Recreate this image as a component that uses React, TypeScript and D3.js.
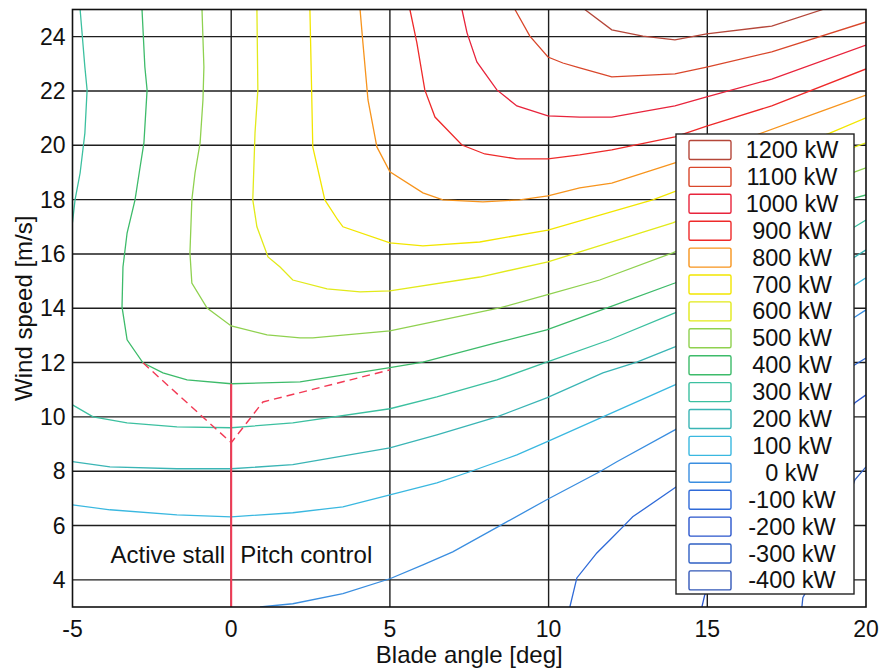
import React from "react";
import * as d3 from "d3";

type P = [number, number];

const xTicks = [-5, 0, 5, 10, 15, 20];
const yTicks = [4, 6, 8, 10, 12, 14, 16, 18, 20, 22, 24];
const xGrid = [0, 5, 10, 15];

const levels = [1200, 1100, 1000, 900, 800, 700, 600, 500, 400, 300, 200, 100, 0, -100, -200, -300, -400];
const levelColors = [
  "#b5473a", "#d9472b", "#e8243c", "#ee2a2a", "#f7941d", "#f2e600", "#e2ea1a",
  "#8fd14f", "#3dbb6a", "#3cc0a0", "#3ab5b5", "#3ab8e0", "#3a8ee0",
  "#2f6ad8", "#2a55cc", "#3060c4", "#3358b8",
];

const c1200: P[] = [[11.14, 25], [11.99, 24.25], [12.97, 24.02], [13.98, 23.88], [14.98, 24.1], [17.03, 24.39], [18.64, 25]];
const c1100: P[] = [[8.94, 25], [9.41, 24.02], [9.98, 23.25], [10.45, 23.03], [10.98, 22.85], [11.99, 22.52], [13.98, 22.63], [14.98, 22.88], [17.03, 23.44], [20, 24.54]];
const c1000: P[] = [[7.27, 25], [7.43, 24.14], [7.74, 23.07], [8.37, 22.04], [9.0, 21.45], [9.98, 21.08], [10.98, 21.04], [11.99, 21.04], [13.98, 21.45], [14.98, 21.78], [17.03, 22.44], [20, 23.69]];
const c900: P[] = [[5.63, 25], [5.85, 23.77], [6.1, 22.04], [6.42, 21.04], [7.27, 20.01], [7.99, 19.68], [9.0, 19.5], [9.98, 19.5], [10.98, 19.65], [11.99, 19.83], [13.98, 20.31], [14.98, 20.71], [17.03, 21.45], [20, 22.81]];
const c800: P[] = [[4.06, 25], [4.15, 23.77], [4.31, 21.67], [4.59, 19.94], [5.0, 19.02], [6.04, 18.25], [6.67, 17.99], [7.93, 17.92], [9.09, 17.99], [9.98, 18.14], [10.98, 18.43], [11.99, 18.61], [13.98, 19.35], [14.98, 19.72], [18.54, 21.23], [20, 21.85]];
const c700: P[] = [[2.48, 25], [2.54, 21.67], [2.57, 19.94], [2.95, 17.99], [3.36, 17.25], [3.52, 17.0], [5.0, 16.41], [6.04, 16.3], [7.83, 16.44], [9.98, 16.88], [13.28, 17.99], [18.86, 20.45], [20, 21.01]];
const c600: P[] = [[0.81, 25], [0.84, 22.04], [0.75, 20.45], [0.68, 17.99], [0.81, 17.0], [1.16, 15.89], [1.54, 15.52], [1.94, 15.04], [3.02, 14.71], [4.06, 14.6], [5.0, 14.64], [7.83, 15.15], [9.98, 15.71], [13.91, 17.14], [19.65, 19.94], [20, 20.09]];
const c500: P[] = [[-0.92, 25], [-0.86, 22.88], [-0.89, 21.67], [-0.98, 20.09], [-1.14, 18.98], [-1.24, 17.99], [-1.27, 17.0], [-1.3, 16.04], [-1.24, 14.93], [-0.76, 14.01], [0, 13.35], [1.13, 13.02], [2.17, 12.91], [2.57, 12.91], [5.0, 13.17], [8.46, 14.01], [9.94, 14.49], [11.61, 15.04], [13.91, 16.04], [19.65, 19.02], [20, 19.17]];
const c400: P[] = [[-2.81, 25], [-2.72, 22.88], [-2.65, 22.04], [-2.75, 20.09], [-2.87, 19.2], [-3.03, 17.99], [-3.28, 16.77], [-3.41, 15.52], [-3.44, 14.05], [-3.28, 12.84], [-2.78, 11.99], [-2.15, 11.62], [-1.39, 11.36], [0, 11.22], [2.17, 11.29], [5.0, 11.81], [6.04, 12.02], [8.37, 12.73], [9.94, 13.2], [11.93, 14.05], [13.98, 14.93], [19.65, 18.06], [20, 18.17]];
const c300a: P[] = [[-4.76, 25], [-4.61, 22.88], [-4.54, 22.04], [-4.61, 20.45], [-4.76, 18.98], [-4.92, 17.99], [-5, 17.16]];
const c300b: P[] = [[-5, 10.44], [-4.35, 10.0], [-3.28, 9.78], [-1.71, 9.63], [0, 9.6], [1.94, 9.78], [5.0, 10.3], [6.48, 10.74], [8.37, 11.36], [9.94, 12.02], [11.93, 12.84], [13.98, 13.83], [19.65, 17.0], [20, 17.25]];
const c200: P[] = [[-5, 8.35], [-3.82, 8.16], [-1.71, 8.09], [0, 8.09], [1.94, 8.24], [5.0, 8.86], [6.48, 9.34], [8.37, 10.0], [9.94, 10.7], [11.71, 11.62], [12.78, 12.02], [13.98, 12.58], [19.65, 15.89], [20, 16.15]];
const c100: P[] = [[-5, 6.76], [-3.82, 6.58], [-1.71, 6.39], [0, 6.32], [1.94, 6.47], [3.52, 6.69], [5.0, 7.13], [6.48, 7.57], [7.52, 7.98], [9.0, 8.6], [9.94, 9.08], [11.71, 10.0], [13.98, 11.18], [19.65, 14.86], [20, 15.12]];
const c0: P[] = [[0.91, 3], [1.94, 3.12], [3.52, 3.49], [5.0, 4.04], [6.04, 4.55], [6.98, 5.03], [8.4, 5.95], [9.94, 6.95], [11.61, 7.98], [12.15, 8.35], [13.98, 9.52], [19.65, 13.68], [20, 13.94]];
const cm100: P[] = [[10.67, 3], [10.89, 4.07], [11.52, 4.99], [11.93, 5.47], [12.34, 5.95], [12.65, 6.32], [13.98, 7.39], [19.65, 11.92], [20, 12.17]];
const cm200: P[] = [[14.83, 3], [14.92, 3.45], [17.5, 7.0], [19.65, 10.52], [20, 10.81]];
const cm300: P[] = [[17.98, 3], [18.01, 3.34], [19.0, 5.5], [19.65, 7.68], [20, 8.16]];
const cm400: P[] = [];

const contourPieces: P[][][] = [
  [c1200], [c1100], [c1000], [c900], [c800], [c700], [c600], [c500], [c400],
  [c300a, c300b], [c200], [c100], [c0], [cm100], [cm200], [cm300], [cm400],
];

const controlDashed: P[] = [[-2.78, 11.99], [0, 9.05], [1.0, 10.55], [5.0, 11.73]];
const controlSolid: P[] = [[0, 3], [0, 11.22]];

const W = 880;
const H = 671;
const FONT = "'Liberation Sans', Arial, Helvetica, sans-serif";

export default function App() {
  const x = d3.scaleLinear().domain([-5, 20]).range([72.5, 866]);
  const y = d3.scaleLinear().domain([3, 25]).range([607, 9.5]);
  const line = d3.line<P>().x((d) => x(d[0])).y((d) => y(d[1]));

  const [x0, x1] = x.range();
  const [y0, y1] = y.range();

  const legX = 676, legY = 134, legW = 178, legH = 460;
  const rowH = 26.9;

  return (
    <svg width={W} height={H} style={{ position: "absolute", left: 0, top: 0, background: "#fff" }} fontFamily={FONT}>
      <defs>
        <clipPath id="plotclip">
          <rect x={x0} y={y1} width={x1 - x0} height={y0 - y1} />
        </clipPath>
      </defs>
      <rect x={0} y={0} width={W} height={H} fill="#fff" />
      {/* grid */}
      <g stroke="#1e1e1e" strokeWidth={1.4}>
        {yTicks.map((t) => (
          <line key={"gy" + t} x1={x0} x2={x1} y1={y(t)} y2={y(t)} />
        ))}
        {xGrid.map((t) => (
          <line key={"gx" + t} x1={x(t)} x2={x(t)} y1={y0} y2={y1} />
        ))}
      </g>
      {/* contours */}
      <g clipPath="url(#plotclip)" fill="none" strokeWidth={1.3}>
        {contourPieces.map((pieces, i) =>
          pieces.filter((p) => p.length > 1).map((p, j) => (
            <path key={"c" + i + "_" + j} d={line(p) || ""} stroke={levelColors[i]} />
          ))
        )}
        <path d={line(controlSolid) || ""} stroke="#f23a55" strokeWidth={2} />
        <path d={line(controlDashed) || ""} stroke="#f23a55" strokeWidth={1.4} strokeDasharray="8 5" />
      </g>
      {/* axes frame */}
      <rect x={x0} y={y1} width={x1 - x0} height={y0 - y1} fill="none" stroke="#111" strokeWidth={1.6} />
      {/* tick labels */}
      <g fontSize={23} fill="#111">
        {xTicks.map((t) => (
          <text key={"tx" + t} x={x(t)} y={y0 + 30} textAnchor="middle">{t}</text>
        ))}
        {yTicks.map((t) => (
          <text key={"ty" + t} x={x0 - 7} y={y(t) + 8} textAnchor="end">{t}</text>
        ))}
      </g>
      {/* axis labels */}
      <text x={(x0 + x1) / 2} y={663} textAnchor="middle" fontSize={24} fill="#111">Blade angle [deg]</text>
      <text transform={`translate(32,${(y0 + y1) / 2}) rotate(-90)`} textAnchor="middle" fontSize={24} fill="#111">Wind speed [m/s]</text>
      {/* annotations */}
      <text x={x(0) - 6} y={y(4.63)} textAnchor="end" fontSize={24} fill="#111">Active stall</text>
      <text x={x(0) + 9} y={y(4.63)} textAnchor="start" fontSize={24} fill="#111">Pitch control</text>
      {/* legend */}
      <g>
        <rect x={legX} y={legY} width={legW} height={legH} fill="#fff" stroke="#222" strokeWidth={1.4} />
        {levels.map((lv, i) => {
          const cy = legY + 16 + i * rowH;
          return (
            <g key={"lg" + lv}>
              <rect x={legX + 13} y={cy - 9.5} width={42} height={19} rx={1.5} fill="#fff" stroke={levelColors[i]} strokeWidth={1.4} />
              <text x={792} y={cy + 8} textAnchor="middle" fontSize={23.5} fill="#111">{`${lv} kW`}</text>
            </g>
          );
        })}
      </g>
    </svg>
  );
}
